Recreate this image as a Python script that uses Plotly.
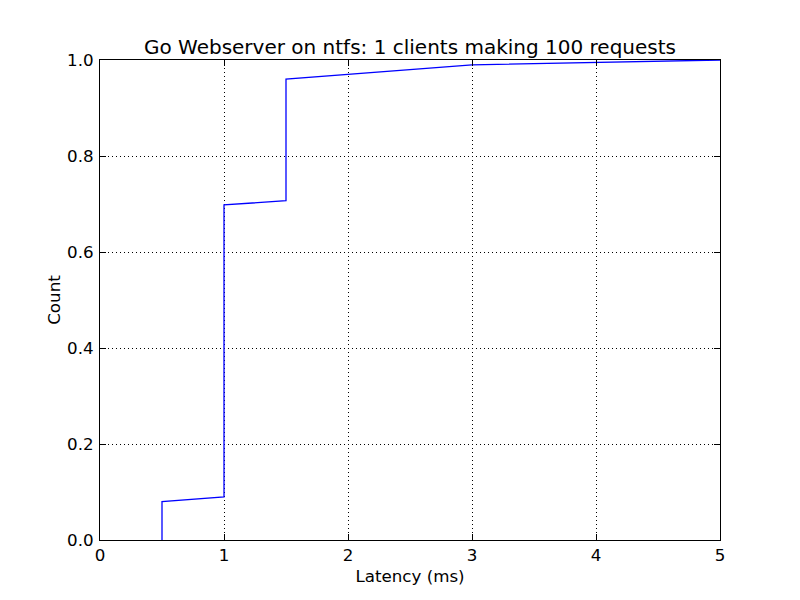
import plotly.graph_objects as go

latency_ms = [0.5, 0.5, 1.0, 1.0, 1.5, 1.5, 3.0, 4.0, 5.0]
cdf = [0.0, 0.08, 0.09, 0.698, 0.707, 0.96, 0.99, 0.995, 1.0]

x_ticks = [0, 1, 2, 3, 4, 5]
y_ticks = [0.0, 0.2, 0.4, 0.6, 0.8, 1.0]

fig = go.Figure()
fig.add_trace(go.Scatter(x=latency_ms, y=cdf, mode="lines",
                         line=dict(color="#0000ff", width=1.3),
                         showlegend=False, hoverinfo="skip"))

font = "DejaVu Sans, sans-serif"
axis_common = dict(
    showline=True, linecolor="black", linewidth=1, mirror="ticks",
    ticks="inside", ticklen=6, tickcolor="black", tickwidth=1,
    showgrid=True, gridcolor="black", gridwidth=1, griddash="1px,3px",
    zeroline=False, tickfont=dict(family=font, size=16.7, color="black"),
)

fig.update_layout(
    width=800, height=600,
    paper_bgcolor="white", plot_bgcolor="white",
    margin=dict(l=100, r=80, t=60, b=60),
    title=dict(text="Go Webserver on ntfs: 1 clients making 100 requests",
               x=0.5125, xanchor="center", y=(600 - 54) / 600, yanchor="bottom",
               yref="container",
               font=dict(family=font, size=20, color="black")),
    xaxis=dict(range=[0, 5], tickvals=x_ticks, ticktext=[str(v) for v in x_ticks],
               ticklabelstandoff=0,
               title=dict(text="Latency (ms)", font=dict(family=font, size=16.7, color="black"), standoff=6),
               **axis_common),
    yaxis=dict(range=[0, 1], tickvals=y_ticks, ticktext=[f"{v:.1f}" for v in y_ticks],
               ticklabelstandoff=2,
               title=dict(text="Count", font=dict(family=font, size=16.7, color="black"), standoff=2),
               **axis_common),
)

fig.write_html("out.html", config={"displayModeBar": False},
               post_script="document.body.style.margin='0';")
